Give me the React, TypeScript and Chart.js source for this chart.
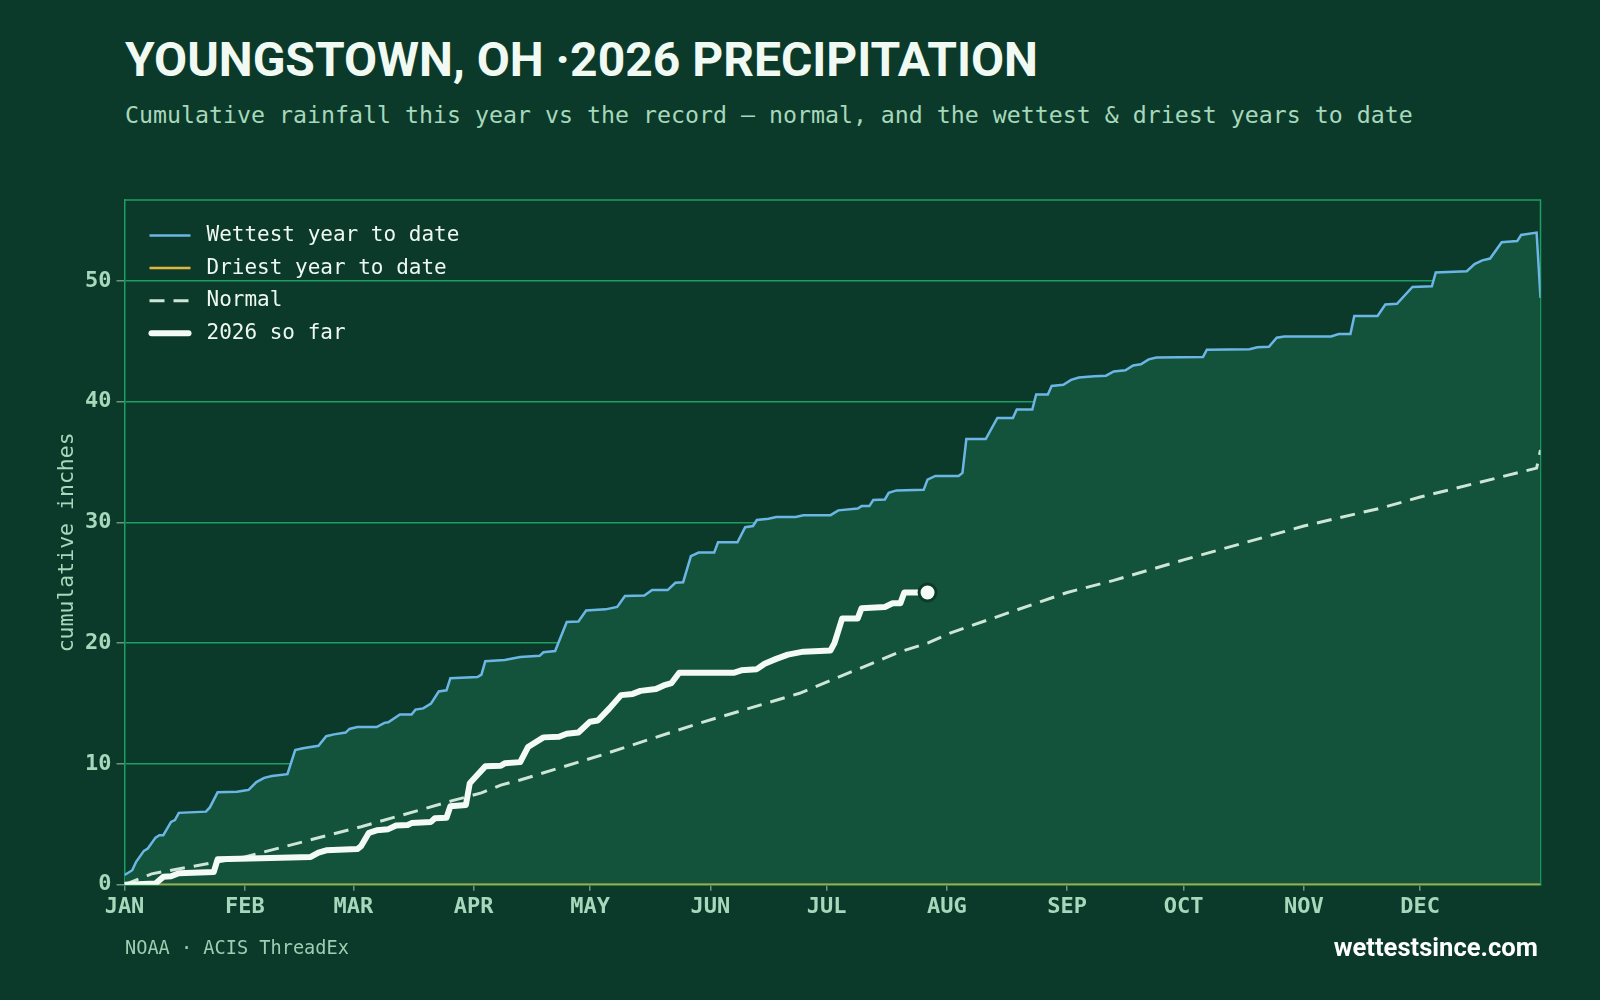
import React, { useEffect, useRef } from "react";
import { Chart, registerables } from "chart.js";

Chart.register(...registerables);

// Day-of-year where each month starts, and its axis label
const monthStarts = [0, 31, 59, 90, 120, 151, 181, 212, 243, 273, 304, 334];
const monthLabels = ["JAN", "FEB", "MAR", "APR", "MAY", "JUN", "JUL", "AUG", "SEP", "OCT", "NOV", "DEC"];
const yTickValues = [0, 10, 20, 30, 40, 50];

// [day of year, cumulative inches]
const wettestYear: [number, number][] = [
  [0, 0.8], [2, 1.2], [3, 1.9], [5, 2.8], [6, 3.0], [8, 3.9], [9, 4.1], [10, 4.1], [12, 5.2], [13, 5.35],
  [14, 5.95], [21, 6.05], [22, 6.4], [24, 7.65], [29, 7.7], [31, 7.8], [32, 7.85], [34, 8.5], [36, 8.85],
  [38, 9.0], [42, 9.15], [44, 11.15], [46, 11.3], [50, 11.5], [52, 12.3], [54, 12.45], [57, 12.6], [58, 12.9],
  [60, 13.05], [65, 13.05], [67, 13.4], [68, 13.45], [71, 14.1], [74, 14.1], [75, 14.5], [77, 14.6], [79, 15.0],
  [81, 16.0], [83, 16.1], [84, 17.1], [91, 17.2], [92, 17.4], [93, 18.5], [98, 18.6], [102, 18.85], [107, 18.95],
  [108, 19.25], [111, 19.35], [114, 21.75], [117, 21.8], [119, 22.7], [124, 22.8], [127, 23.0], [129, 23.9],
  [134, 23.95], [136, 24.4], [140, 24.4], [142, 25.0], [144, 25.05], [146, 27.2], [148, 27.5], [152, 27.5],
  [153, 28.35], [158, 28.35], [160, 29.6], [162, 29.7], [163, 30.2], [166, 30.3], [168, 30.45], [173, 30.45],
  [175, 30.6], [182, 30.6], [184, 31.0], [189, 31.15], [190, 31.35], [192, 31.35], [193, 31.85], [196, 31.9],
  [197, 32.45], [199, 32.65], [206, 32.7], [207, 33.55], [209, 33.85], [215, 33.85], [216, 34.1], [217, 36.9],
  [222, 36.9], [225, 38.65], [229, 38.65], [230, 39.35], [234, 39.35], [235, 40.6], [238, 40.6], [239, 41.3],
  [242, 41.4], [244, 41.8], [246, 42.0], [250, 42.1], [253, 42.15], [255, 42.5], [258, 42.6], [260, 43.0],
  [262, 43.1], [264, 43.5], [266, 43.65], [278, 43.7], [279, 44.3], [290, 44.35], [292, 44.5], [295, 44.55],
  [297, 45.3], [299, 45.4], [311, 45.4], [313, 45.6], [316, 45.6], [317, 47.1], [323, 47.1], [325, 48.05],
  [328, 48.1], [332, 49.5], [337, 49.55], [338, 50.7], [346, 50.8], [348, 51.4], [350, 51.7], [352, 51.85],
  [355, 53.2], [359, 53.3], [360, 53.8], [364, 54.0], [365, 48.6],
];

const driestYear: [number, number][] = [
  [0, 0], [365, 0],
];

const normalYear: [number, number][] = [
  [0, 0], [7, 0.9], [31, 2.3], [61, 4.8], [85, 7.0], [92, 7.6], [97, 8.25], [102, 8.67], [123, 10.74],
  [148, 13.36], [174, 15.85], [200, 19.3], [207, 20.0], [213, 20.86], [243, 24.2], [255, 25.2], [273, 26.9],
  [304, 29.7], [324, 31.2], [334, 32.1], [364, 34.5], [365, 36.0],
];

const thisYear: [number, number][] = [
  [0, 0], [8, 0.1], [10, 0.65], [12, 0.7], [14, 0.95], [23, 1.05], [24, 2.1], [35, 2.2], [48, 2.3], [50, 2.65],
  [52, 2.85], [60, 2.95], [61, 3.2], [63, 4.3], [65, 4.5], [68, 4.6], [70, 4.9], [73, 4.95], [74, 5.1], [79, 5.2],
  [80, 5.5], [83, 5.55], [84, 6.5], [88, 6.6], [89, 8.4], [91, 9.1], [93, 9.8], [97, 9.85], [98, 10.05],
  [102, 10.15], [104, 11.4], [108, 12.2], [112, 12.25], [114, 12.5], [117, 12.6], [120, 13.5], [122, 13.6],
  [125, 14.6], [128, 15.7], [131, 15.8], [133, 16.05], [137, 16.2], [139, 16.5], [141, 16.7], [143, 17.55],
  [157, 17.55], [159, 17.75], [163, 17.85], [165, 18.3], [168, 18.7], [171, 19.05], [175, 19.3], [182, 19.4],
  [183, 20.0], [185, 22.05], [189, 22.05], [190, 22.9], [196, 23.0], [198, 23.3], [200, 23.3], [201, 24.2],
  [207, 24.2],
];

const seriesLabels = ["Wettest year to date", "Driest year to date", "Normal", "2026 so far"];

const BG = "#0c3a2a";
const FILL = "#13523b";
const GRID = "#1d9e63";
const TICK_MARK = "#6b957f";
const MUTED = "#a6d8bb";
const INK = "#eef8f2";
const MONO = '"DejaVu Sans Mono", monospace';

const toPoints = (rows: [number, number][]) => rows.map(([x, y]) => ({ x, y }));

// Frame along the top and right edges of the plot area
const plotFrame = {
  id: "plotFrame",
  beforeDatasetsDraw(chart: any) {
    const { ctx, chartArea } = chart;
    const { left, top, right, bottom } = chartArea;
    ctx.save();
    ctx.strokeStyle = GRID;
    ctx.lineWidth = 1.5;
    ctx.beginPath();
    ctx.moveTo(left, top);
    ctx.lineTo(right, top);
    ctx.lineTo(right, bottom);
    ctx.stroke();
    ctx.restore();
  },
};

// Legend drawn inside the top-left corner of the plot
const insetLegend = {
  id: "insetLegend",
  afterDraw(chart: any) {
    const { ctx, chartArea } = chart;
    const x0 = chartArea.left + 25;
    const x1 = chartArea.left + 66;
    ctx.save();
    ctx.font = `21px ${MONO}`;
    ctx.textBaseline = "middle";
    ctx.textAlign = "left";
    chart.data.datasets.forEach((ds: any, i: number) => {
      const y = chartArea.top + 35.5 + i * 32.6;
      const thick = i === 3;
      ctx.strokeStyle = ds.borderColor;
      ctx.lineWidth = thick ? 6 : ds.borderWidth;
      ctx.lineCap = thick ? "round" : "butt";
      ctx.setLineDash(ds.borderDash || []);
      ctx.beginPath();
      ctx.moveTo(x0 + (thick ? 2 : 0), y);
      ctx.lineTo(x1 - (thick ? 2 : 0), y);
      ctx.stroke();
      ctx.setLineDash([]);
      ctx.fillStyle = INK;
      ctx.fillText(ds.label, chartArea.left + 82, y);
    });
    ctx.restore();
  },
};

function PrecipChart() {
  const canvasRef = useRef<HTMLCanvasElement | null>(null);

  useEffect(() => {
    const canvas = canvasRef.current;
    if (!canvas) return;
    const yMax = Math.max(...wettestYear.map((r) => r[1])) * 1.05;
    const lastIndex = thisYear.length - 1;

    // lower `order` is painted later, so the current year sits on top
    const chart = new Chart(canvas, {
      type: "line",
      data: {
        datasets: [
          {
            label: seriesLabels[0],
            data: toPoints(wettestYear),
            borderColor: "#6cb6e6",
            borderWidth: 2.5,
            backgroundColor: FILL,
            fill: "origin",
            pointRadius: 0,
            order: 4,
          },
          {
            label: seriesLabels[1],
            data: toPoints(driestYear),
            borderColor: "#e2b43c",
            borderWidth: 2.5,
            fill: false,
            pointRadius: 0,
            order: 3,
          },
          {
            label: seriesLabels[2],
            data: toPoints(normalYear),
            borderColor: "#cde6d6",
            borderWidth: 3,
            borderDash: [15, 9],
            fill: false,
            pointRadius: 0,
            order: 2,
          },
          {
            label: seriesLabels[3],
            data: toPoints(thisYear),
            borderColor: "#f4fbf6",
            borderWidth: 6,
            borderJoinStyle: "round",
            borderCapStyle: "round",
            fill: false,
            pointRadius: (ctx: any) => (ctx.dataIndex === lastIndex ? 8.5 : 0),
            pointBackgroundColor: "#f4fbf6",
            pointBorderColor: BG,
            pointBorderWidth: 3,
            order: 1,
          },
        ],
      },
      options: {
        animation: false,
        responsive: false,
        devicePixelRatio: 1,
        layout: { padding: { left: 0, top: 200, right: 59.5, bottom: 0 } },
        plugins: {
          legend: { display: false },
          tooltip: { enabled: false },
        },
        elements: { line: { tension: 0 } },
        scales: {
          x: {
            type: "linear",
            min: 0,
            max: 365,
            afterBuildTicks: (scale: any) => {
              scale.ticks = monthStarts.map((value) => ({ value }));
            },
            afterFit: (scale: any) => {
              scale.height = 115.3;
            },
            ticks: {
              autoSkip: false,
              maxRotation: 0,
              padding: 3,
              color: MUTED,
              font: { family: MONO, weight: "bold", size: 22 },
              callback: (value: any) => monthLabels[monthStarts.indexOf(Number(value))],
            },
            grid: {
              drawOnChartArea: false,
              drawTicks: true,
              tickLength: 6,
              tickColor: TICK_MARK,
              lineWidth: 1.5,
            },
            border: { display: true, color: GRID, width: 1.5 },
          },
          y: {
            min: 0,
            max: yMax,
            afterBuildTicks: (scale: any) => {
              scale.ticks = yTickValues.map((value) => ({ value }));
            },
            afterFit: (scale: any) => {
              scale.width = 124.5;
            },
            ticks: {
              padding: 5,
              color: MUTED,
              font: { family: MONO, weight: "bold", size: 22 },
            },
            grid: {
              color: GRID,
              lineWidth: 1.5,
              drawTicks: true,
              tickLength: 8,
              tickColor: TICK_MARK,
            },
            border: { display: true, color: GRID, width: 1.5 },
            title: {
              display: true,
              text: "cumulative inches",
              color: MUTED,
              font: { family: MONO, size: 21.5, weight: "normal" },
              padding: { top: 54.4, bottom: 0 },
            },
          },
        },
      },
      plugins: [plotFrame, insetLegend],
    } as any);

    return () => chart.destroy();
  }, []);

  return (
    <canvas
      ref={canvasRef}
      width={1600}
      height={1000}
      style={{ position: "absolute", left: 0, top: 0, width: 1600, height: 1000 }}
    />
  );
}

export default function App() {
  return (
    <div
      style={{
        position: "absolute",
        left: 0,
        top: 0,
        width: 1600,
        height: 1000,
        overflow: "hidden",
        background: BG,
      }}
    >
      <div
        style={{
          position: "absolute",
          left: 125,
          top: 35.6,
          font: '700 48px Roboto, "Liberation Sans", sans-serif',
          lineHeight: 1,
          color: "#f0faf3",
          whiteSpace: "nowrap",
        }}
      >
        YOUNGSTOWN, OH ·2026 PRECIPITATION
      </div>
      <div
        style={{
          position: "absolute",
          left: 125,
          top: 102.6,
          fontFamily: MONO,
          fontSize: 23.25,
          lineHeight: 1,
          color: MUTED,
          whiteSpace: "nowrap",
        }}
      >
        Cumulative rainfall this year vs the record — normal, and the wettest &amp; driest years to date
      </div>
      <PrecipChart />
      <div
        style={{
          position: "absolute",
          left: 125,
          top: 939,
          fontFamily: MONO,
          fontSize: 18.6,
          lineHeight: 1,
          color: "#9dd0b3",
          whiteSpace: "nowrap",
        }}
      >
        NOAA · ACIS ThreadEx
      </div>
      <div
        style={{
          position: "absolute",
          right: 62,
          top: 935.3,
          font: '700 25.6px Roboto, "Liberation Sans", sans-serif',
          lineHeight: 1,
          color: "#ffffff",
          whiteSpace: "nowrap",
        }}
      >
        wettestsince.com
      </div>
    </div>
  );
}
